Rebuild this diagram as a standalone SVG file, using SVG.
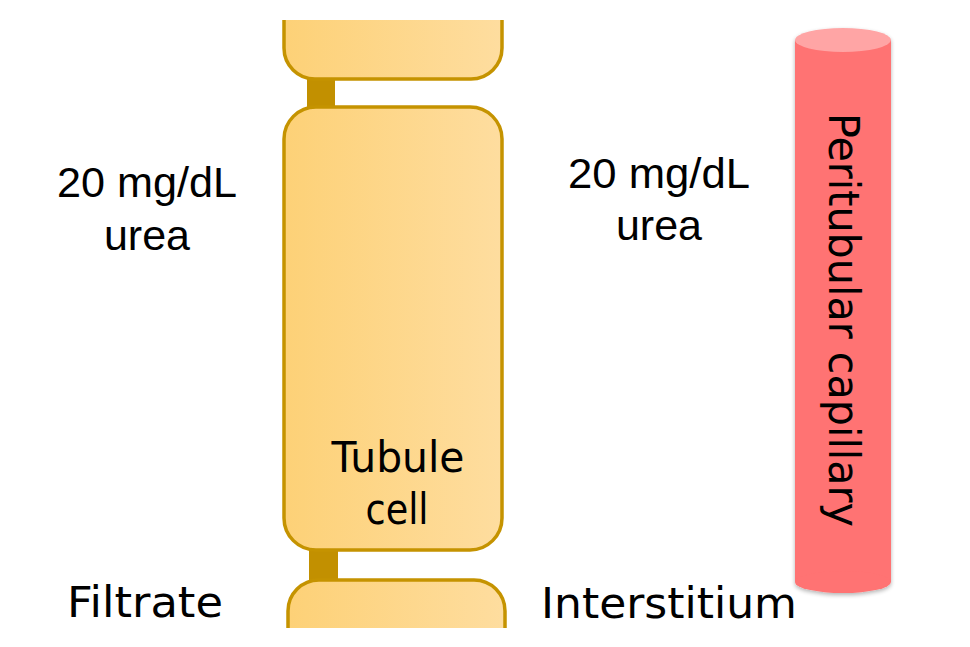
<svg xmlns="http://www.w3.org/2000/svg" width="970" height="647" viewBox="0 0 970 647">
  <defs>
    <linearGradient id="cellGrad" x1="0" y1="0" x2="1" y2="0">
      <stop offset="0" stop-color="#FDD177"/>
      <stop offset="1" stop-color="#FEDD9F"/>
    </linearGradient>
    <clipPath id="clipTop"><rect x="0" y="20" width="970" height="100"/></clipPath>
    <clipPath id="clipBottom"><rect x="0" y="560" width="970" height="68"/></clipPath>
    <filter id="shadow" x="-20%" y="-5%" width="140%" height="110%">
      <feGaussianBlur in="SourceAlpha" stdDeviation="2"/>
      <feOffset dx="0" dy="2" result="b"/>
      <feComponentTransfer><feFuncA type="linear" slope="0.3"/></feComponentTransfer>
      <feMerge><feMergeNode/><feMergeNode in="SourceGraphic"/></feMerge>
    </filter>
    <style>
      .cell { fill: url(#cellGrad); stroke: #C59300; stroke-width: 3.5; }
      .junction { fill: #C29000; }
      .arial { font-family: "Liberation Sans", Arial, sans-serif; font-size: 43px; fill: #000; }
      .comic { font-family: "Comic Sans MS", "DejaVu Sans", sans-serif; font-size: 42px; fill: #000; }
    </style>
  </defs>
  <rect width="970" height="647" fill="#FFFFFF"/>

  <g id="junctions">
    <rect class="junction" x="307" y="76" width="28" height="34"/>
    <rect class="junction" x="309" y="547" width="29" height="36"/>
  </g>

  <g id="cell-top" clip-path="url(#clipTop)">
    <rect class="cell" x="284" y="-40" width="218" height="119" rx="31" ry="31"/>
  </g>

  <g id="cell-middle">
    <rect class="cell" x="284" y="107" width="218" height="443" rx="32" ry="32"/>
    <text class="comic" x="398" y="472" text-anchor="middle" textLength="133" lengthAdjust="spacingAndGlyphs">Tubule</text>
    <text class="comic" x="397" y="524" text-anchor="middle" textLength="63" lengthAdjust="spacingAndGlyphs">cell</text>
  </g>

  <g id="cell-bottom" clip-path="url(#clipBottom)">
    <rect class="cell" x="288" y="580" width="217" height="120" rx="31" ry="31"/>
  </g>

  <g id="capillary" filter="url(#shadow)">
    <rect x="795" y="40" width="96" height="542" fill="#FF7373"/>
    <ellipse cx="843" cy="582" rx="48" ry="11" fill="#FF7373"/>
    <ellipse cx="843" cy="40" rx="48" ry="12" fill="#FFA5A5"/>
  </g>
  <g id="capillary-label">
    <text class="comic" transform="translate(829,320) rotate(90)" x="0" y="0" text-anchor="middle" font-size="41" textLength="414" lengthAdjust="spacingAndGlyphs">Peritubular capillary</text>
  </g>

  <g id="filtrate-conc">
    <text class="arial" x="147" y="197" text-anchor="middle" textLength="180" lengthAdjust="spacingAndGlyphs">20 mg/dL</text>
    <text class="arial" x="147" y="250" text-anchor="middle">urea</text>
  </g>
  <g id="interstitium-conc">
    <text class="arial" x="659" y="188" text-anchor="middle" textLength="182" lengthAdjust="spacingAndGlyphs">20 mg/dL</text>
    <text class="arial" x="659" y="240" text-anchor="middle">urea</text>
  </g>

  <g id="filtrate-label">
    <text class="comic" x="67" y="617" textLength="156" lengthAdjust="spacingAndGlyphs">Filtrate</text>
  </g>
  <g id="interstitium-label">
    <text class="comic" x="541" y="618" textLength="256" lengthAdjust="spacingAndGlyphs">Interstitium</text>
  </g>

  <g id="connectors"></g>
</svg>
